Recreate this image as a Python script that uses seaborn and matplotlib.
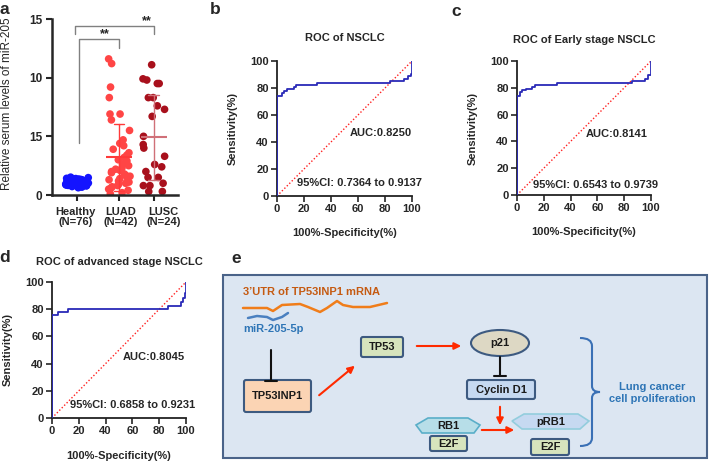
import numpy as np
import pandas as pd
import matplotlib
matplotlib.use('Agg')
import matplotlib.pyplot as plt
import seaborn as sns
from matplotlib.patches import FancyBboxPatch, Ellipse, Polygon, FancyArrowPatch, PathPatch
from matplotlib.path import Path

sns.set_style('ticks')
plt.rcParams['font.family'] = ['Liberation Sans', 'DejaVu Sans']

# --- panel a data ---
groups = ['Healthy', 'LUAD', 'LUSC']
group_pos = [0, 1.1, 2.02]
group_label_pos = [-0.05, 1.16, 2.28]
group_labels = ['Healthy\n(N=76)', 'LUAD\n(N=42)', 'LUSC\n(N=24)']
healthy = [0.62, 0.68, 0.72, 0.75, 0.78, 0.8, 0.82, 0.84, 0.85, 0.86, 0.88, 0.89, 0.9, 0.9,
           0.91, 0.92, 0.93, 0.94, 0.95, 0.95, 0.96, 0.97, 0.98, 0.98, 0.99, 1.0, 1.0, 1.0,
           1.01, 1.02, 1.02, 1.03, 1.04, 1.05, 1.05, 1.06, 1.07, 1.08, 1.08, 1.09, 1.1, 1.1,
           1.11, 1.12, 1.13, 1.14, 1.15, 1.15, 1.16, 1.17, 1.18, 1.19, 1.2, 1.2, 1.21, 1.22,
           1.24, 1.25, 1.26, 1.28, 1.3, 1.32, 1.34, 1.36, 1.38, 1.4, 1.42, 1.45, 1.48, 1.52,
           0.7, 0.76, 0.83, 0.87, 1.0, 1.12]
luad = [11.6, 11.2, 9.2, 8.3, 6.9, 6.9, 6.4, 5.5, 4.7, 4.4,
        4.2, 3.9, 3.6, 3.4, 3.2, 3.0, 2.9, 2.7, 2.6, 2.5, 2.3, 2.2, 2.1, 2.0, 1.9, 1.8,
        1.7, 1.6, 1.5, 1.4, 1.3, 1.2, 1.1, 1.0, 0.9, 0.8, 0.7, 0.6, 0.5, 0.4, 0.2, 0.1]
lusc = [11.1, 9.9, 9.8, 9.5, 9.5, 8.3, 8.3, 7.6, 7.3, 6.7, 5.0, 4.3, 4.0, 3.3, 2.6, 2.4,
        2.0, 1.5, 1.5, 1.0, 0.8, 0.8, 0.3, 0.3]
a_yticks = [0, 5, 10, 15]
a_yticklabels = ['0', '15', '10', '15']

# --- ROC data ---
b_fpr = [0, 0, 3.7, 3.7, 5, 5, 7.4, 7.4, 12.3, 12.3, 14, 14, 29.6, 29.6, 84, 84, 94, 94, 97, 97, 99, 99, 100, 100]
b_tpr = [0, 74, 74, 76, 76, 78, 78, 79, 79, 80.5, 80.5, 82, 82, 83.5, 83.5, 85, 85, 86.5, 86.5, 89, 89, 90.5, 90.5, 100]
c_fpr = [0, 0, 2, 2, 4, 4, 7, 7, 11, 11, 13.5, 13.5, 30, 30, 86, 86, 95.5, 95.5, 98, 98, 100, 100]
c_tpr = [0, 74, 74, 76.5, 76.5, 78, 78, 79, 79, 80.5, 80.5, 82, 82, 83.5, 83.5, 85, 85, 86.5, 86.5, 89.5, 89.5, 100]
d_fpr = [0, 0, 4.7, 4.7, 12.2, 12.2, 86.8, 86.8, 96.3, 96.3, 97.6, 97.6, 99, 99, 100, 100]
d_tpr = [0, 75.7, 75.7, 78, 78, 80.5, 80.5, 82.5, 82.5, 85.5, 85.5, 88, 88, 92, 92, 100]
roc_ticks = [0, 20, 40, 60, 80, 100]

W, H = 709, 461
fig = plt.figure(figsize=(W / 100, H / 100), dpi=100)


def add_ax(l, t, r, b):
    return fig.add_axes([l / W, 1 - b / H, (r - l) / W, (b - t) / H])


# ---- panel e (diagram) drawn on a full-figure canvas ----
ax_e = fig.add_axes([0, 0, 1, 1], zorder=0)
ax_e.set_xlim(0, W)
ax_e.set_ylim(H, 0)
ax_e.axis('off')

edge = '#3d5a80'
ax_e.add_patch(plt.Rectangle((223, 275), 484, 183, facecolor='#dce6f2', edgecolor='#4a6389', lw=1.5))


def box(x0, y0, x1, y1, fc, text, fs=8):
    ax_e.add_patch(FancyBboxPatch((x0, y0), x1 - x0, y1 - y0, boxstyle='round,pad=0,rounding_size=2',
                                  facecolor=fc, edgecolor=edge, lw=1.5))
    ax_e.text((x0 + x1) / 2, (y0 + y1) / 2, text, ha='center', va='center', fontsize=fs,
              fontweight='bold', color='#1a1a1a')


def arrow(p0, p1):
    ax_e.add_patch(FancyArrowPatch(p0, p1, arrowstyle='-|>', mutation_scale=10, color='#ff2a00', lw=1.5))


def inhibit(x, y0, y1):
    ax_e.plot([x, x], [y0, y1], color='#111111', lw=1.5)
    ax_e.plot([x - 6, x + 6], [y1, y1], color='#111111', lw=1.5)


ax_e.text(243, 292, '3\u2019UTR of TP53INP1 mRNA', ha='left', va='center', fontsize=8,
          fontweight='bold', color='#c55a11')
mrna_x = [243, 267, 273, 282, 300, 308, 320, 327, 337, 343, 353, 370, 387]
mrna_y = [308, 308, 311, 305, 304, 307, 312, 308, 301, 305, 307, 307, 303]
ax_e.plot(mrna_x, mrna_y, color='#f07d1a', lw=1.8)
mir_x = [248, 257, 267, 273, 282, 288]
mir_y = [318, 316, 317, 320, 317, 313]
ax_e.plot(mir_x, mir_y, color='#4a80c0', lw=1.8)
ax_e.text(243, 329, 'miR-205-5p', ha='left', va='center', fontsize=8, fontweight='bold', color='#2e75b6')

inhibit(271, 350, 381)
box(244, 380, 311, 412, '#fbd4b4', 'TP53INP1')
arrow((317, 397), (357, 364))
box(361, 337, 403, 357, '#d7e4bd', 'TP53')
arrow((414, 346), (464, 346))
ax_e.add_patch(Ellipse((500, 343), 58, 26, facecolor='#ddd8c4', edgecolor=edge, lw=1.5))
ax_e.text(500, 343, 'p21', ha='center', va='center', fontsize=8, fontweight='bold', color='#1a1a1a')
inhibit(500, 357, 376)
box(467, 380, 535, 399, '#c6d9f1', 'Cyclin D1')
arrow((500, 404), (500, 428))
arrow((479, 430), (517, 430))

ax_e.add_patch(Polygon([(428, 418), (468, 418), (480, 425), (474, 433), (422, 433), (416, 425)],
                       closed=True, facecolor='#b7dee8', edgecolor='#5aaec8', lw=1.2))
ax_e.text(448, 426, 'RB1', ha='center', va='center', fontsize=8, fontweight='bold', color='#1a1a1a')
box(430, 436, 467, 451, '#d7e4bd', 'E2F')
ax_e.add_patch(Polygon([(524, 414), (578, 414), (589, 421), (580, 429), (522, 429), (512, 421)],
                       closed=True, facecolor='#c6d9f1', edgecolor='#93cddd', lw=1.2))
ax_e.text(551, 422, 'pRB1', ha='center', va='center', fontsize=8, fontweight='bold', color='#1a1a1a')
box(531, 439, 569, 455, '#d7e4bd', 'E2F')

verts = [(580, 338), (592, 338), (592, 346), (592, 386), (592, 392), (600, 392),
         (592, 392), (592, 398), (592, 438), (592, 446), (580, 446)]
codes = [Path.MOVETO, Path.CURVE3, Path.CURVE3, Path.LINETO, Path.CURVE3, Path.CURVE3,
         Path.CURVE3, Path.CURVE3, Path.LINETO, Path.CURVE3, Path.CURVE3]
ax_e.add_patch(PathPatch(Path(verts, codes), facecolor='none', edgecolor='#3a70b5', lw=1.5))
ax_e.text(652, 393, 'Lung cancer\ncell proliferation', ha='center', va='center', fontsize=8,
          fontweight='bold', color='#2e75b6', linespacing=1.2)

# ---- panel a ----
ax_a = add_ax(52, 19, 178, 195)
pos_map = dict(zip(groups, group_pos))
df_a = pd.DataFrame({'group': ['Healthy'] * len(healthy) + ['LUAD'] * len(luad) + ['LUSC'] * len(lusc),
                     'value': healthy + luad + lusc})
df_a['pos'] = df_a['group'].map(pos_map)
np.random.seed(3)
sns.stripplot(data=df_a, x='pos', y='value', hue='group', hue_order=groups, native_scale=True,
              palette=['#1414ff', '#ff4545', '#a8101c'], jitter=0.34, size=5.5, linewidth=0,
              ax=ax_a, legend=False, zorder=2)
sns.pointplot(data=df_a, x='pos', y='value', hue='group', hue_order=groups, native_scale=True,
              palette=['#1414ff', '#ff3a3a', '#d07078'], errorbar='sd', capsize=0.3,
              markers='_', markersize=19, markeredgewidth=1.5, linestyle='none',
              err_kws={'linewidth': 1.0}, legend=False, ax=ax_a)
for ln in ax_a.lines:
    if ln.get_marker() == '_' and len(ln.get_xdata()) and ln.get_xdata()[0] == group_pos[2]:
        ln.set_markeredgecolor('#111111')
        ln.set_zorder(5)

gray = '#808080'
ax_a.plot([0.05, 0.05, group_pos[1], group_pos[1]], [4.4, 13.3, 13.3, 12.5], color=gray, lw=1, clip_on=False)
ax_a.plot([-0.05, -0.05, group_pos[2], group_pos[2]], [13.7, 14.4, 14.4, 13.7], color=gray, lw=1, clip_on=False)
ax_a.text(0.72, 13.2, '**', ha='center', va='bottom', fontsize=9, fontweight='bold')
ax_a.text(1.85, 14.3, '**', ha='center', va='bottom', fontsize=9, fontweight='bold')

ax_a.set_xlim(-0.66, 2.66)
ax_a.set_ylim(0, 15)
ax_a.set_yticks(a_yticks)
ax_a.set_yticklabels(a_yticklabels, fontweight='bold', fontsize=8.5)
ax_a.set_xticks(group_pos)
ax_a.set_xticklabels([])
for lx, lab in zip(group_label_pos, group_labels):
    ax_a.text(lx, -0.068, lab, transform=ax_a.get_xaxis_transform(), ha='center', va='top',
              fontsize=8, fontweight='bold', linespacing=1.05)
ax_a.set_xlabel('')
ax_a.set_ylabel('Relative serum levels of miR-205', fontsize=8.5)
ax_a.yaxis.set_label_coords(-0.31, 0.52)
sns.despine(ax=ax_a)
for s in ['left', 'bottom']:
    ax_a.spines[s].set_linewidth(1.8)
ax_a.tick_params(axis='y', width=1.5, length=4, pad=3)
ax_a.tick_params(axis='x', width=1.5, length=4)


# ---- ROC panels ----
def roc_panel(rect, fpr, tpr, title, title_y, auc_text, auc_xy, ci_text, ci_xy):
    ax = add_ax(*rect)
    sns.lineplot(x=fpr, y=tpr, sort=False, estimator=None, color='#2a2ab8', lw=1.3, ax=ax, zorder=3)
    ax.plot([0, 100], [0, 100], color='#ff2020', ls=(0, (1, 1.5)), lw=1.0, zorder=2)
    ax.set_xlim(0, 100)
    ax.set_ylim(0, 100)
    ax.set_xticks(roc_ticks)
    ax.set_yticks(roc_ticks)
    ax.set_xticklabels([str(t) for t in roc_ticks], fontweight='bold', fontsize=8)
    ax.set_yticklabels([str(t) for t in roc_ticks], fontweight='bold', fontsize=8)
    ax.tick_params(width=1.2, length=4.5, pad=1.5)
    sns.despine(ax=ax)
    for s in ['left', 'bottom']:
        ax.spines[s].set_linewidth(1.3)
        ax.spines[s].set_color('#222222')
    ax.set_ylabel('Sensitivity(%)', fontsize=8, fontweight='bold')
    ax.set_xlabel('100%-Specificity(%)', fontsize=8, fontweight='bold')
    ax.yaxis.set_label_coords(-0.29, 0.5)
    ax.xaxis.set_label_coords(0.5, -0.24)
    ax.text(0.5, title_y, title, transform=ax.transAxes, ha='center', va='center',
            fontsize=8, fontweight='bold')
    ax.text(auc_xy[0], auc_xy[1], auc_text, ha='left', va='center', fontsize=8, fontweight='bold')
    ax.text(ci_xy[0], ci_xy[1], ci_text, ha='left', va='center', fontsize=8, fontweight='bold')
    return ax


roc_panel((277, 61, 412, 196), b_fpr, b_tpr, 'ROC of NSCLC', 1.17,
          'AUC:0.8250', (54, 47), '95%CI: 0.7364 to 0.9137', (15, 9.6))
roc_panel((517, 61, 651, 195), c_fpr, c_tpr, 'ROC of Early stage NSCLC', 1.157,
          'AUC:0.8141', (51.5, 45.5), '95%CI: 0.6543 to 0.9739', (12, 7.5))
roc_panel((52, 282, 186, 418), d_fpr, d_tpr, 'ROC of advanced stage NSCLC', 1.147,
          'AUC:0.8045', (53, 45), '95%CI: 0.6858 to 0.9231', (13.4, 9.5))

# panel letters
for lab, x, y in [('a', 4, 10), ('b', 215, 9), ('c', 456, 11), ('d', 5, 257), ('e', 236, 258)]:
    fig.text(x / W, 1 - y / H, lab, ha='center', va='center', fontsize=12.5, fontweight='bold')

fig.savefig('out.png', dpi=100)
